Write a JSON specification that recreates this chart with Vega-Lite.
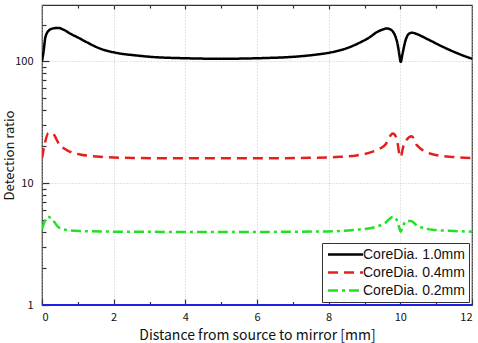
{
  "$schema": "https://vega.github.io/schema/vega-lite/v6.json",
  "width": 430,
  "height": 300,
  "autosize": {"type": "none"},
  "padding": {"left": 42, "top": 5, "right": 6, "bottom": 38},
  "background": "white",
  "config": {
    "font": "Noto Sans CJK JP",
    "view": {"stroke": "#333333", "strokeWidth": 1.2},
    "axis": {"domain": false, "tickColor": "#333333", "tickWidth": 1.2, "labelColor": "#111111", "labelFontSize": 11, "titleColor": "#111111", "titleFontSize": 14, "titleFontWeight": "normal", "gridColor": "#bbbbbb", "gridDash": [1, 2], "gridWidth": 0.8},
    "legend": {"orient": "bottom-right", "offset": 3, "fillColor": "white", "strokeColor": "#333333", "padding": 4, "symbolType": "M-3,0H3", "symbolSize": 136, "symbolOffset": 12, "symbolStrokeWidth": 2.5, "labelFont": "Liberation Sans", "labelFontSize": 14, "labelColor": "#111111", "labelOffset": 10, "cornerRadius": 0, "rowPadding": 3}
  },
  "datasets": {
    "main": [
      {"series": "CoreDia. 1.0mm", "x": 0, "y": 100},
      {"series": "CoreDia. 1.0mm", "x": 0.04, "y": 118},
      {"series": "CoreDia. 1.0mm", "x": 0.1, "y": 160},
      {"series": "CoreDia. 1.0mm", "x": 0.2, "y": 180},
      {"series": "CoreDia. 1.0mm", "x": 0.3, "y": 186},
      {"series": "CoreDia. 1.0mm", "x": 0.45, "y": 188},
      {"series": "CoreDia. 1.0mm", "x": 0.6, "y": 182},
      {"series": "CoreDia. 1.0mm", "x": 0.8, "y": 168},
      {"series": "CoreDia. 1.0mm", "x": 1.0, "y": 157},
      {"series": "CoreDia. 1.0mm", "x": 1.2, "y": 146},
      {"series": "CoreDia. 1.0mm", "x": 1.6, "y": 128},
      {"series": "CoreDia. 1.0mm", "x": 2.1, "y": 117},
      {"series": "CoreDia. 1.0mm", "x": 2.6, "y": 112},
      {"series": "CoreDia. 1.0mm", "x": 3.1, "y": 108.5},
      {"series": "CoreDia. 1.0mm", "x": 4, "y": 106},
      {"series": "CoreDia. 1.0mm", "x": 5, "y": 105},
      {"series": "CoreDia. 1.0mm", "x": 6, "y": 106},
      {"series": "CoreDia. 1.0mm", "x": 7.2, "y": 110},
      {"series": "CoreDia. 1.0mm", "x": 7.7, "y": 114},
      {"series": "CoreDia. 1.0mm", "x": 8.1, "y": 119},
      {"series": "CoreDia. 1.0mm", "x": 8.5, "y": 128},
      {"series": "CoreDia. 1.0mm", "x": 8.9, "y": 144},
      {"series": "CoreDia. 1.0mm", "x": 9.15, "y": 158},
      {"series": "CoreDia. 1.0mm", "x": 9.35, "y": 174},
      {"series": "CoreDia. 1.0mm", "x": 9.5, "y": 182},
      {"series": "CoreDia. 1.0mm", "x": 9.62, "y": 186},
      {"series": "CoreDia. 1.0mm", "x": 9.72, "y": 183},
      {"series": "CoreDia. 1.0mm", "x": 9.8, "y": 174},
      {"series": "CoreDia. 1.0mm", "x": 9.87, "y": 158},
      {"series": "CoreDia. 1.0mm", "x": 9.92, "y": 140},
      {"series": "CoreDia. 1.0mm", "x": 9.97, "y": 115},
      {"series": "CoreDia. 1.0mm", "x": 10.01, "y": 99},
      {"series": "CoreDia. 1.0mm", "x": 10.06, "y": 115},
      {"series": "CoreDia. 1.0mm", "x": 10.1, "y": 131},
      {"series": "CoreDia. 1.0mm", "x": 10.15, "y": 150},
      {"series": "CoreDia. 1.0mm", "x": 10.2, "y": 163},
      {"series": "CoreDia. 1.0mm", "x": 10.26, "y": 170},
      {"series": "CoreDia. 1.0mm", "x": 10.33, "y": 172},
      {"series": "CoreDia. 1.0mm", "x": 10.45, "y": 168},
      {"series": "CoreDia. 1.0mm", "x": 10.74, "y": 153},
      {"series": "CoreDia. 1.0mm", "x": 11.2, "y": 131},
      {"series": "CoreDia. 1.0mm", "x": 11.67, "y": 114},
      {"series": "CoreDia. 1.0mm", "x": 12, "y": 105},

      {"series": "CoreDia. 0.4mm", "x": 0, "y": 16},
      {"series": "CoreDia. 0.4mm", "x": 0.08, "y": 21.2},
      {"series": "CoreDia. 0.4mm", "x": 0.17, "y": 25.6},
      {"series": "CoreDia. 0.4mm", "x": 0.27, "y": 25.9},
      {"series": "CoreDia. 0.4mm", "x": 0.5, "y": 20.5},
      {"series": "CoreDia. 0.4mm", "x": 0.69, "y": 18.7},
      {"series": "CoreDia. 0.4mm", "x": 1.06, "y": 17.2},
      {"series": "CoreDia. 0.4mm", "x": 1.62, "y": 16.5},
      {"series": "CoreDia. 0.4mm", "x": 2.55, "y": 16.1},
      {"series": "CoreDia. 0.4mm", "x": 4, "y": 16},
      {"series": "CoreDia. 0.4mm", "x": 6, "y": 16},
      {"series": "CoreDia. 0.4mm", "x": 7.2, "y": 16.1},
      {"series": "CoreDia. 0.4mm", "x": 8.2, "y": 16.4},
      {"series": "CoreDia. 0.4mm", "x": 8.78, "y": 16.9},
      {"series": "CoreDia. 0.4mm", "x": 9.34, "y": 18.7},
      {"series": "CoreDia. 0.4mm", "x": 9.57, "y": 20.5},
      {"series": "CoreDia. 0.4mm", "x": 9.79, "y": 25.6},
      {"series": "CoreDia. 0.4mm", "x": 9.9, "y": 23.3},
      {"series": "CoreDia. 0.4mm", "x": 9.97, "y": 17.5},
      {"series": "CoreDia. 0.4mm", "x": 10.01, "y": 16.4},
      {"series": "CoreDia. 0.4mm", "x": 10.08, "y": 19.9},
      {"series": "CoreDia. 0.4mm", "x": 10.17, "y": 22.6},
      {"series": "CoreDia. 0.4mm", "x": 10.32, "y": 24.3},
      {"series": "CoreDia. 0.4mm", "x": 10.46, "y": 20.5},
      {"series": "CoreDia. 0.4mm", "x": 10.92, "y": 17.2},
      {"series": "CoreDia. 0.4mm", "x": 11.48, "y": 16.4},
      {"series": "CoreDia. 0.4mm", "x": 12, "y": 16.1},

      {"series": "CoreDia. 0.2mm", "x": 0, "y": 4.2},
      {"series": "CoreDia. 0.2mm", "x": 0.08, "y": 4.9},
      {"series": "CoreDia. 0.2mm", "x": 0.17, "y": 5.3},
      {"series": "CoreDia. 0.2mm", "x": 0.27, "y": 5.1},
      {"series": "CoreDia. 0.2mm", "x": 0.46, "y": 4.35},
      {"series": "CoreDia. 0.2mm", "x": 0.69, "y": 4.13},
      {"series": "CoreDia. 0.2mm", "x": 1.06, "y": 4.05},
      {"series": "CoreDia. 0.2mm", "x": 2, "y": 4.0},
      {"series": "CoreDia. 0.2mm", "x": 4, "y": 3.98},
      {"series": "CoreDia. 0.2mm", "x": 6, "y": 3.98},
      {"series": "CoreDia. 0.2mm", "x": 8, "y": 4.02},
      {"series": "CoreDia. 0.2mm", "x": 8.8, "y": 4.15},
      {"series": "CoreDia. 0.2mm", "x": 9.34, "y": 4.4},
      {"series": "CoreDia. 0.2mm", "x": 9.57, "y": 4.7},
      {"series": "CoreDia. 0.2mm", "x": 9.8, "y": 5.3},
      {"series": "CoreDia. 0.2mm", "x": 9.9, "y": 5.0},
      {"series": "CoreDia. 0.2mm", "x": 9.97, "y": 4.3},
      {"series": "CoreDia. 0.2mm", "x": 10.01, "y": 4.0},
      {"series": "CoreDia. 0.2mm", "x": 10.08, "y": 4.5},
      {"series": "CoreDia. 0.2mm", "x": 10.17, "y": 4.9},
      {"series": "CoreDia. 0.2mm", "x": 10.3, "y": 4.9},
      {"series": "CoreDia. 0.2mm", "x": 10.46, "y": 4.5},
      {"series": "CoreDia. 0.2mm", "x": 10.9, "y": 4.15},
      {"series": "CoreDia. 0.2mm", "x": 11.5, "y": 4.05},
      {"series": "CoreDia. 0.2mm", "x": 12, "y": 4.0}
    ],
    "blue": [
      {"x": 0, "y": 1.0},
      {"x": 12, "y": 1.0}
    ]
  },
  "layer": [
    {
      "data": {"name": "blue"},
      "mark": {"type": "line", "color": "#2020e0", "strokeWidth": 2},
      "encoding": {
        "x": {"field": "x", "type": "quantitative", "scale": {"domain": [0, 12], "nice": false},
              "axis": {"orient": "bottom", "values": [1, 3, 5, 7, 9, 11], "tickSize": -3.5, "labels": false, "title": null, "grid": false}},
        "y": {"field": "y", "type": "quantitative", "scale": {"type": "log", "domain": [1, 290], "nice": false},
              "axis": {"orient": "left", "values": [2, 3, 4, 5, 6, 7, 8, 9, 20, 30, 40, 50, 60, 70, 80, 90, 200], "tickSize": -4, "labels": false, "title": null, "grid": false}}
      }
    },
    {
      "data": {"name": "main"},
      "mark": {"type": "line", "strokeWidth": 2.5, "interpolate": "monotone", "clip": true},
      "encoding": {
        "x": {"field": "x", "type": "quantitative",
              "axis": {"orient": "bottom", "values": [0, 2, 4, 6, 8, 10, 12], "tickSize": -6, "labelPadding": 12, "grid": true, "title": "Distance from source to mirror [mm]", "titlePadding": 6, "titleFontSize": 14}},
        "y": {"field": "y", "type": "quantitative",
              "axis": {"orient": "left", "values": [1, 10, 100], "tickSize": -7, "labelPadding": 16, "grid": true, "title": "Detection ratio", "titlePadding": -2, "titleFontSize": 13}},
        "color": {"field": "series", "type": "nominal",
                  "scale": {"domain": ["CoreDia. 1.0mm", "CoreDia. 0.4mm", "CoreDia. 0.2mm"], "range": ["#000000", "#e4201c", "#22e022"]},
                  "legend": {"title": null}},
        "strokeDash": {"field": "series", "type": "nominal",
                  "scale": {"domain": ["CoreDia. 1.0mm", "CoreDia. 0.4mm", "CoreDia. 0.2mm"], "range": [[1, 0], [10, 6], [10, 4, 3, 4]]},
                  "legend": {"title": null}}
      }
    },
    {
      "data": {"name": "blue"},
      "mark": {"type": "line", "opacity": 0},
      "encoding": {
        "x": {"field": "x", "type": "quantitative",
              "axis": {"orient": "top", "values": [2, 4, 6, 8, 10], "tickSize": -4, "labels": false, "title": null, "grid": false}},
        "y": {"field": "y", "type": "quantitative", "axis": null}
      }
    },
    {
      "data": {"name": "blue"},
      "mark": {"type": "line", "opacity": 0},
      "encoding": {
        "x": {"field": "x", "type": "quantitative",
              "axis": {"orient": "top", "values": [1, 3, 5, 7, 9, 11], "tickSize": -3, "labels": false, "title": null, "grid": false}},
        "y": {"field": "y", "type": "quantitative", "axis": null}
      }
    }
  ],
  "resolve": {"axis": {"x": "independent", "y": "independent"}}
}
